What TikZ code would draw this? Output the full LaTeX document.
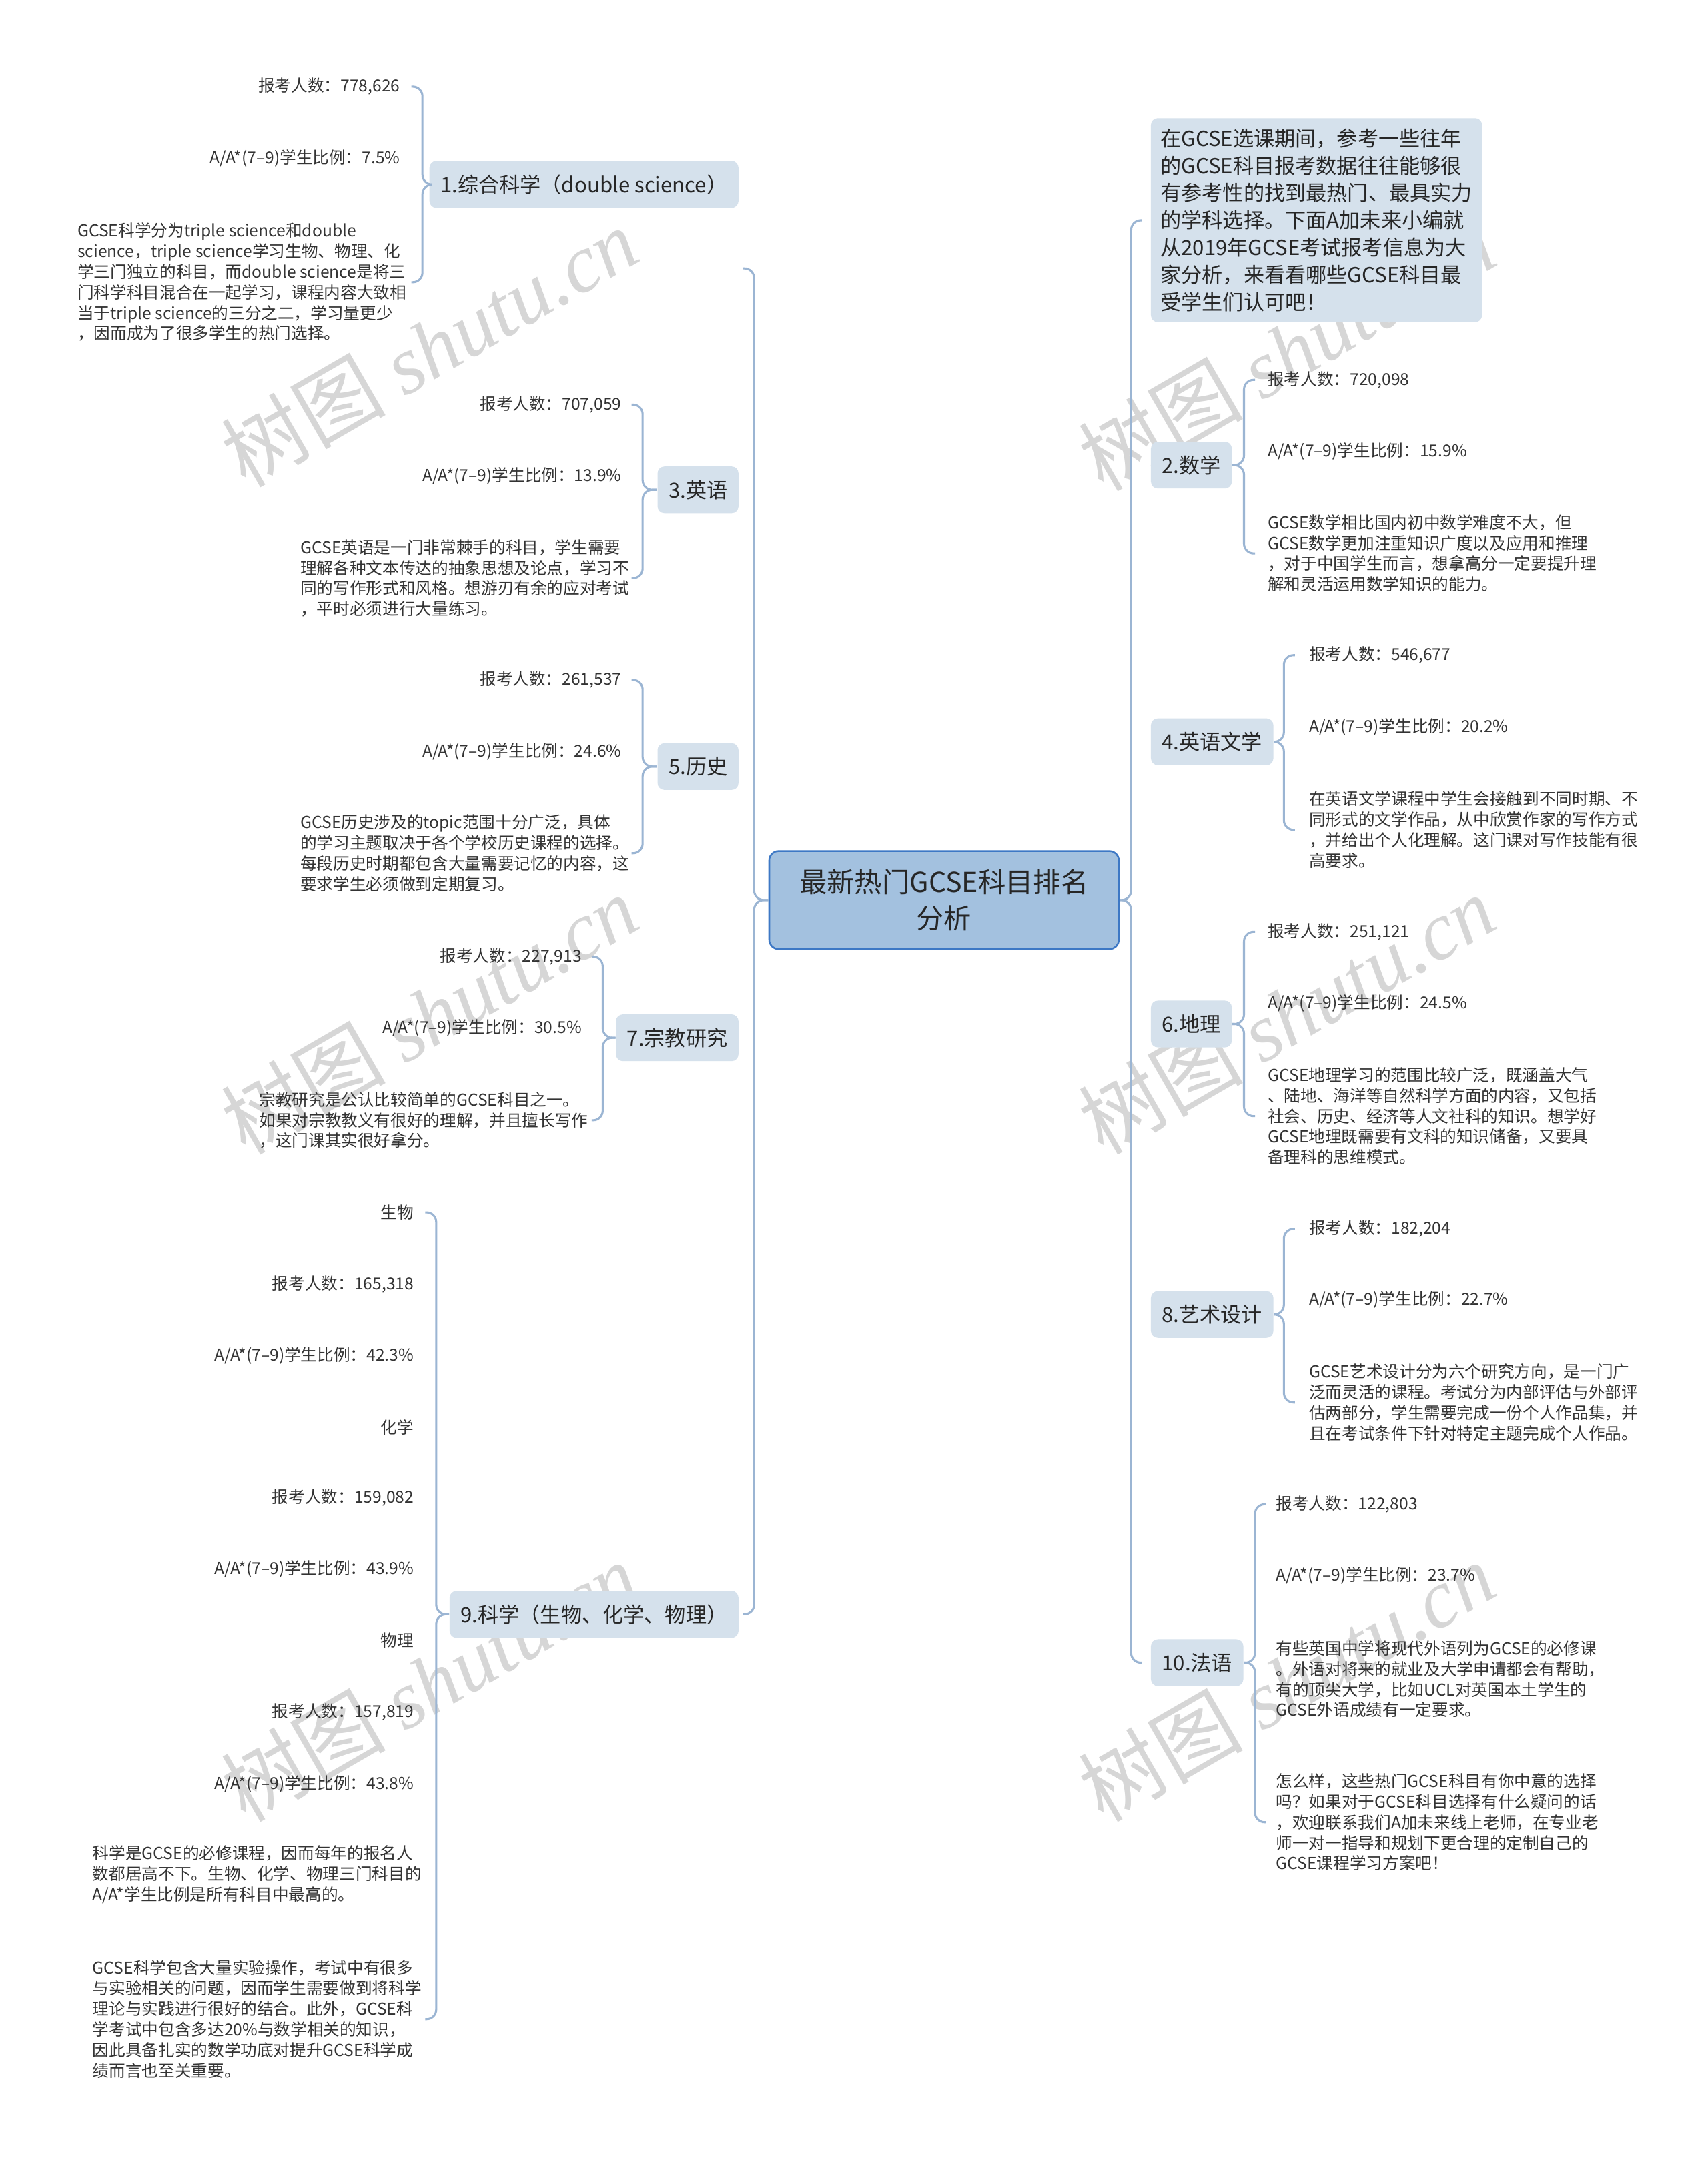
\documentclass[tikz,border=0pt]{standalone}
\usepackage{fontspec}
\setmainfont{Noto Sans CJK SC}
\newfontfamily\wmlatin{Liberation Serif}
\usepackage{tikz}
\definecolor{linkc}{HTML}{9BB5D3}
\definecolor{rootc}{HTML}{A3C1DF}
\definecolor{rootline}{HTML}{3D78C5}
\definecolor{topicc}{HTML}{D5E1EC}
\definecolor{inkc}{HTML}{262626}
\definecolor{leafc}{HTML}{333333}
\definecolor{wmc}{HTML}{D6D6D6}

\newcommand{\joinleft}[4]{%
  \draw[link] (#2 -| #4-8,0) -- (#2 -| #4,0) -- (#1 -| #4,0) -- (#1.west);
  \draw[link] (#1.west) -- (#1 -| #4,0) -- (#3 -| #4,0) -- (#3 -| #4-8,0);}
\newcommand{\joinright}[4]{%
  \draw[link] (#2 -| #4+8,0) -- (#2 -| #4,0) -- (#1 -| #4,0) -- (#1.east);
  \draw[link] (#1.east) -- (#1 -| #4,0) -- (#3 -| #4,0) -- (#3 -| #4+8,0);}

\begin{document}
\begin{tikzpicture}[
    x=0.02cm, y=-0.02cm,
    link/.style={draw=linkc, line width=0.85pt, rounded corners=1.4mm},
    root/.style={draw=rootline, line width=0.7pt, fill=rootc, rounded corners=1.3mm, minimum width=5.08cm, minimum height=1.42cm, align=center, text=inkc, font=\fontsize{11.4pt}{14.8pt}\selectfont},
    topic/.style={fill=topicc, rounded corners=1mm, minimum height=0.68cm, inner xsep=0.16cm, text=inkc, font=\fontsize{8.6pt}{11pt}\selectfont},
    topicl/.style={topic, anchor=east},
    topicr/.style={topic, anchor=west},
    intro/.style={topic, anchor=west, align=left, inner xsep=0.14cm, inner ysep=0.15cm, font=\fontsize{8.6pt}{11.3pt}\selectfont},
    leaf/.style={inner sep=0pt, text=leafc, font=\fontsize{6.8pt}{8.5pt}\selectfont},
    leafl/.style={leaf, anchor=east, align=right},
    leafr/.style={leaf, anchor=west, align=left},
    wm/.style={rotate=30, text=wmc, font=\fontsize{34pt}{34pt}\selectfont}
]

\path[use as bounding box, fill=white] (0,0) rectangle (1241,1568);

\node[wm] (wm1) at (312,252) {树图 {\wmlatin\itshape shutu.cn}};
\node[wm] (wm2) at (935,255) {树图 {\wmlatin\itshape shutu.cn}};
\node[wm] (wm3) at (312,737) {树图 {\wmlatin\itshape shutu.cn}};
\node[wm] (wm4) at (935,737) {树图 {\wmlatin\itshape shutu.cn}};
\node[wm] (wm5) at (312,1222) {树图 {\wmlatin\itshape shutu.cn}};
\node[wm] (wm6) at (935,1222) {树图 {\wmlatin\itshape shutu.cn}};

\node[root] (gcse) at (686,654) {最新热门GCSE科目排名\\分析};

\node[topicl] (sci) at (537,134) {1.综合科学（double science）};
\node[topicl] (eng) at (537,356) {3.英语};
\node[topicl] (hist) at (537,557) {5.历史};
\node[topicl] (rel) at (537,754) {7.宗教研究};
\node[topicl] (trip) at (537,1173) {9.科学（生物、化学、物理）};
\coordinate (toplink) at (540,195);

\node[intro] (intro) at (836,160) {在GCSE选课期间，参考一些往年\\的GCSE科目报考数据往往能够很\\有参考性的找到最热门、最具实力\\的学科选择。下面A加未来小编就\\从2019年GCSE考试报考信息为大\\家分析，来看看哪些GCSE科目最\\受学生们认可吧！};
\node[topicr] (math) at (836,338) {2.数学};
\node[topicr] (lit) at (836,539) {4.英语文学};
\node[topicr] (geo) at (836,744) {6.地理};
\node[topicr] (art) at (836,955) {8.艺术设计};
\node[topicr] (fre) at (836,1208) {10.法语};

\node[leafl] (sci1) at (291,63) {报考人数：778,626};
\node[leafl] (sci2) at (291,115) {A/A*(7–9)学生比例：7.5\%};
\node[leafr] (sci3) at (56,205) {GCSE科学分为triple science和double\\science，triple science学习生物、物理、化\\学三门独立的科目，而double science是将三\\门科学科目混合在一起学习，课程内容大致相\\当于triple science的三分之二，学习量更少\\，因而成为了很多学生的热门选择。};

\node[leafl] (eng1) at (452,294) {报考人数：707,059};
\node[leafl] (eng2) at (452,346) {A/A*(7–9)学生比例：13.9\%};
\node[leafr] (eng3) at (218,420) {GCSE英语是一门非常棘手的科目，学生需要\\理解各种文本传达的抽象思想及论点，学习不\\同的写作形式和风格。想游刃有余的应对考试\\，平时必须进行大量练习。};

\node[leafl] (hist1) at (452,494) {报考人数：261,537};
\node[leafl] (hist2) at (452,546) {A/A*(7–9)学生比例：24.6\%};
\node[leafr] (hist3) at (218,620) {GCSE历史涉及的topic范围十分广泛，具体\\的学习主题取决于各个学校历史课程的选择。\\每段历史时期都包含大量需要记忆的内容，这\\要求学生必须做到定期复习。};

\node[leafl] (rel1) at (423,695) {报考人数：227,913};
\node[leafl] (rel2) at (423,747) {A/A*(7–9)学生比例：30.5\%};
\node[leafr] (rel3) at (188,814) {宗教研究是公认比较简单的GCSE科目之一。\\如果对宗教教义有很好的理解，并且擅长写作\\，这门课其实很好拿分。};

\node[leafl] (bio) at (301,881) {生物};
\node[leafl] (bio1) at (301,933) {报考人数：165,318};
\node[leafl] (bio2) at (301,985) {A/A*(7–9)学生比例：42.3\%};
\node[leafl] (chem) at (301,1037) {化学};
\node[leafl] (chem1) at (301,1088) {报考人数：159,082};
\node[leafl] (chem2) at (301,1140) {A/A*(7–9)学生比例：43.9\%};
\node[leafl] (phys) at (301,1192) {物理};
\node[leafl] (phys1) at (301,1244) {报考人数：157,819};
\node[leafl] (phys2) at (301,1296) {A/A*(7–9)学生比例：43.8\%};
\node[leafr] (trip1) at (67,1362) {科学是GCSE的必修课程，因而每年的报名人\\数都居高不下。生物、化学、物理三门科目的\\A/A*学生比例是所有科目中最高的。};
\node[leafr] (trip2) at (67,1467) {GCSE科学包含大量实验操作，考试中有很多\\与实验相关的问题，因而学生需要做到将科学\\理论与实践进行很好的结合。此外，GCSE科\\学考试中包含多达20\%与数学相关的知识，\\因此具备扎实的数学功底对提升GCSE科学成\\绩而言也至关重要。};

\node[leafr] (math1) at (921,276) {报考人数：720,098};
\node[leafr] (math2) at (921,328) {A/A*(7–9)学生比例：15.9\%};
\node[leafr] (math3) at (921,402) {GCSE数学相比国内初中数学难度不大，但\\GCSE数学更加注重知识广度以及应用和推理\\，对于中国学生而言，想拿高分一定要提升理\\解和灵活运用数学知识的能力。};

\node[leafr] (lit1) at (951,476) {报考人数：546,677};
\node[leafr] (lit2) at (951,528) {A/A*(7–9)学生比例：20.2\%};
\node[leafr] (lit3) at (951,603) {在英语文学课程中学生会接触到不同时期、不\\同形式的文学作品，从中欣赏作家的写作方式\\，并给出个人化理解。这门课对写作技能有很\\高要求。};

\node[leafr] (geo1) at (921,677) {报考人数：251,121};
\node[leafr] (geo2) at (921,729) {A/A*(7–9)学生比例：24.5\%};
\node[leafr] (geo3) at (921,811) {GCSE地理学习的范围比较广泛，既涵盖大气\\、陆地、海洋等自然科学方面的内容，又包括\\社会、历史、经济等人文社科的知识。想学好\\GCSE地理既需要有文科的知识储备，又要具\\备理科的思维模式。};

\node[leafr] (art1) at (951,893) {报考人数：182,204};
\node[leafr] (art2) at (951,944) {A/A*(7–9)学生比例：22.7\%};
\node[leafr] (art3) at (951,1019) {GCSE艺术设计分为六个研究方向，是一门广\\泛而灵活的课程。考试分为内部评估与外部评\\估两部分，学生需要完成一份个人作品集，并\\且在考试条件下针对特定主题完成个人作品。};

\node[leafr] (fre1) at (927,1093) {报考人数：122,803};
\node[leafr] (fre2) at (927,1145) {A/A*(7–9)学生比例：23.7\%};
\node[leafr] (fre3) at (927,1220) {有些英国中学将现代外语列为GCSE的必修课\\。外语对将来的就业及大学申请都会有帮助，\\有的顶尖大学，比如UCL对英国本土学生的\\GCSE外语成绩有一定要求。};
\node[leafr] (fre4) at (927,1324) {怎么样，这些热门GCSE科目有你中意的选择\\吗？如果对于GCSE科目选择有什么疑问的话\\，欢迎联系我们A加未来线上老师，在专业老\\师一对一指导和规划下更合理的定制自己的\\GCSE课程学习方案吧！};

\joinleft{gcse}{toplink}{trip}{548}
\joinright{gcse}{intro}{fre}{822}

\joinleft{sci}{sci1}{sci3}{307}
\joinleft{eng}{eng1}{eng3}{467}
\joinleft{hist}{hist1}{hist3}{467}
\joinleft{rel}{rel1}{rel3}{438}
\joinleft{trip}{bio}{trip2}{317}

\joinright{math}{math1}{math3}{904}
\joinright{lit}{lit1}{lit3}{933}
\joinright{geo}{geo1}{geo3}{904}
\joinright{art}{art1}{art3}{933}
\joinright{fre}{fre1}{fre4}{912}

\end{tikzpicture}
\end{document}
